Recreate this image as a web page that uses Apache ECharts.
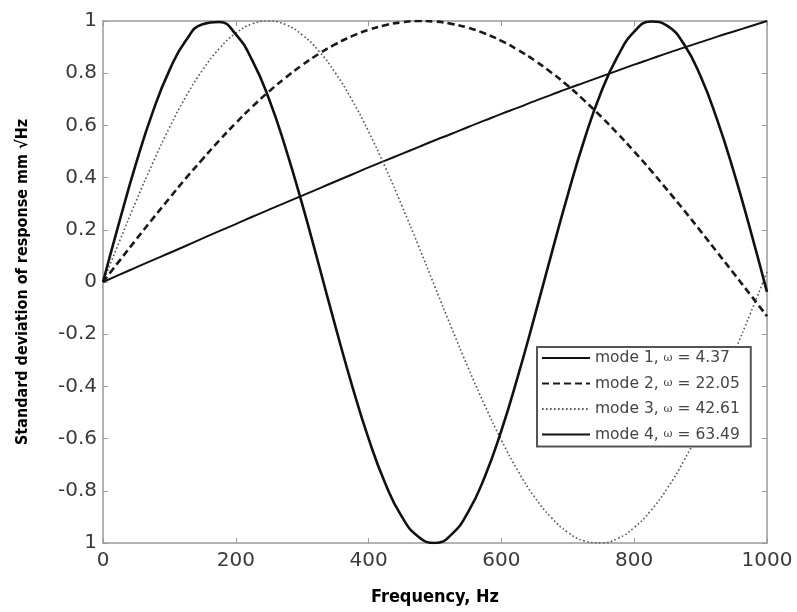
<!DOCTYPE html>
<html>
<head>
<meta charset="utf-8">
<script src="https://cdn.jsdelivr.net/npm/echarts@6/dist/echarts.min.js"></script>
<style>
  html, body { margin: 0; padding: 0; background: #fff; }
  #chart { width: 797px; height: 612px; }
</style>
</head>
<body>
<div id="chart"></div>
<script>
// Frequency grid, Hz
const freq = [0, 25, 50, 75, 100, 125, 150, 175, 200, 225, 250, 275, 300, 325, 350, 375, 400,
  425, 450, 475, 500, 525, 550, 575, 600, 625, 650, 675, 700, 725, 750, 775, 800, 825, 850,
  875, 900, 925, 950, 975, 1000];

// Standard deviation of response for each mode
const mode1 = [0, 0.234, 0.456, 0.652, 0.811, 0.926, 0.988, 0.996, 0.949, 0.848, 0.701, 0.513,
  0.298, 0.066, -0.170, -0.396, -0.600, -0.771, -0.899, -0.976, -1.000, -0.967, -0.881, -0.746,
  -0.569, -0.360, -0.132, 0.104, 0.334, 0.546, 0.726, 0.864, 0.959, 0.998, 0.981, 0.911, 0.788,
  0.621, 0.422, 0.199, -0.038];
const mode2 = [0, 0.082, 0.163, 0.243, 0.321, 0.398, 0.471, 0.542, 0.609, 0.672, 0.730, 0.783,
  0.831, 0.874, 0.911, 0.942, 0.966, 0.984, 0.995, 1.000, 0.998, 0.989, 0.974, 0.952, 0.924,
  0.889, 0.849, 0.803, 0.752, 0.695, 0.634, 0.569, 0.500, 0.428, 0.352, 0.275, 0.195, 0.114,
  0.033, -0.049, -0.131];
const mode3 = [0, 0.157, 0.311, 0.456, 0.591, 0.711, 0.812, 0.894, 0.953, 0.989, 1.000, 0.986,
  0.947, 0.885, 0.801, 0.697, 0.576, 0.440, 0.293, 0.139, -0.019, -0.176, -0.329, -0.473,
  -0.606, -0.724, -0.824, -0.902, -0.959, -0.992, -1.000, -0.983, -0.941, -0.876, -0.790,
  -0.684, -0.560, -0.423, -0.274, -0.120, 0.038];
const mode4 = [0, 0.028, 0.056, 0.084, 0.111, 0.139, 0.167, 0.195, 0.222, 0.250, 0.277, 0.304,
  0.331, 0.358, 0.385, 0.412, 0.439, 0.465, 0.491, 0.517, 0.543, 0.568, 0.594, 0.619, 0.644,
  0.668, 0.693, 0.717, 0.741, 0.764, 0.787, 0.810, 0.833, 0.855, 0.877, 0.898, 0.919, 0.940,
  0.960, 0.980, 1.000];

// Legend entries: mode number and natural frequency
const modeNames = ['mode 1', 'mode 2', 'mode 3', 'mode 4'];
const omegas = ['4.37', '22.05', '42.61', '63.49'];

// Axis ticks and their printed labels
const xTicks = [0, 200, 400, 600, 800, 1000];
const yTicks = [-1, -0.8, -0.6, -0.4, -0.2, 0, 0.2, 0.4, 0.6, 0.8, 1];
const yTickLabels = ['1', '-0.8', '-0.6', '-0.4', '-0.2', '0', '0.2', '0.4', '0.6', '0.8', '1'];

const pairs = ys => freq.map((f, i) => [f, ys[i]]);
const legendText = modeNames.map((m, i) => m + ', {w|\u03c9} = ' + omegas[i]);

const frame = '#9a9a9a';
const tickFont = 'DejaVu Sans';
const titleFont = '"DejaVu Sans Condensed", "DejaVu Sans"';

const chart = echarts.init(document.getElementById('chart'), null, { renderer: 'canvas' });

// Box frame: top and right axes repeat the ticks without labels
const mirrorX = {
  type: 'value', min: 0, max: 1000, interval: 200, position: 'top',
  axisLine: { show: true, onZero: false, lineStyle: { color: frame, width: 1.5 } },
  axisTick: { show: true, inside: true, length: 5, lineStyle: { color: frame } },
  axisLabel: { show: false }, splitLine: { show: false }
};
const mirrorY = {
  type: 'value', min: -1, max: 1, interval: 0.2, position: 'right',
  axisLine: { show: true, onZero: false, lineStyle: { color: frame, width: 1.5 } },
  axisTick: { show: true, inside: true, length: 5, lineStyle: { color: frame } },
  axisLabel: { show: false }, splitLine: { show: false }
};

const styles = [
  { color: '#111', width: 2.6, type: 'solid' },
  { color: '#1a1a1a', width: 2.6, type: [7, 4] },
  { color: '#555', width: 1.6, type: [1.6, 2.4] },
  { color: '#111', width: 2.0, type: 'solid' }
];
const data = [mode1, mode2, mode3, mode4];

chart.setOption({
  animation: false,
  backgroundColor: '#fff',
  grid: { left: 103, right: 30, top: 21, bottom: 69, containLabel: false },
  xAxis: [{
    type: 'value', min: 0, max: 1000, interval: 200, position: 'bottom',
    name: 'Frequency, Hz', nameLocation: 'middle', nameGap: 45,
    nameTextStyle: { fontFamily: titleFont, fontWeight: 'bold', fontSize: 18, color: '#000' },
    axisLine: { show: true, onZero: false, lineStyle: { color: frame, width: 1.5 } },
    axisTick: { show: true, inside: true, length: 5, lineStyle: { color: frame } },
    axisLabel: {
      margin: 8, fontFamily: tickFont, fontSize: 20, color: '#3a3a3a',
      customValues: xTicks, formatter: v => String(v)
    },
    splitLine: { show: false }
  }, mirrorX],
  yAxis: [{
    type: 'value', min: -1, max: 1, interval: 0.2, position: 'left',
    name: 'Standard deviation of response mm \u221aHz', nameLocation: 'middle', nameGap: 72,
    nameTextStyle: { fontFamily: titleFont, fontWeight: 'bold', fontSize: 16, color: '#000' },
    axisLine: { show: true, onZero: false, lineStyle: { color: frame, width: 1.5 } },
    axisTick: { show: true, inside: true, length: 5, lineStyle: { color: frame } },
    axisLabel: {
      margin: 6, fontFamily: tickFont, fontSize: 20, color: '#3a3a3a',
      formatter: v => {
        let best = 0;
        yTicks.forEach((t, i) => { if (Math.abs(t - v) < Math.abs(yTicks[best] - v)) best = i; });
        return yTickLabels[best];
      }
    },
    splitLine: { show: false }
  }, mirrorY],
  legend: {
    show: true,
    orient: 'vertical',
    left: 537, top: 347,
    padding: [2, 11, 3, 4],
    itemWidth: 48, itemHeight: 14, itemGap: 7.5,
    backgroundColor: '#fff',
    borderColor: '#555', borderWidth: 2, borderRadius: 0,
    data: modeNames,
    // legend keys show only the line sample, no marker
    itemStyle: { color: 'rgba(0,0,0,0)', borderWidth: 0, opacity: 0 },
    formatter: name => legendText[modeNames.indexOf(name)],
    textStyle: {
      fontFamily: tickFont, fontSize: 15.5, color: '#444', lineHeight: 18,
      rich: { w: { fontFamily: 'DejaVu Serif', fontSize: 11, color: '#444', lineHeight: 18 } }
    }
  },
  series: data.map((ys, i) => ({
    name: modeNames[i],
    type: 'line',
    xAxisIndex: 0, yAxisIndex: 0,
    data: pairs(ys),
    smooth: true,
    symbol: 'none',
    clip: true,
    lineStyle: { color: styles[i].color, width: styles[i].width, type: styles[i].type },
    itemStyle: { color: styles[i].color },
    z: 4 - i
  }))
});
</script>
</body>
</html>
